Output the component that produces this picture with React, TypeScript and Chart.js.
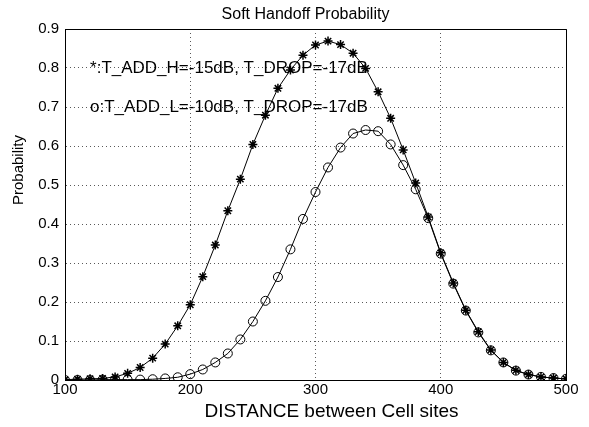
import React, { useEffect, useRef } from "react";
import { Chart, registerables } from "chart.js";

Chart.register(...registerables);

// ---- data ----
const distances = [
  100, 110, 120, 130, 140, 150, 160, 170, 180, 190,
  200, 210, 220, 230, 240, 250, 260, 270, 280, 290,
  300, 310, 320, 330, 340, 350, 360, 370, 380, 390,
  400, 410, 420, 430, 440, 450, 460, 470, 480, 490, 500,
];

// "*" series: T_ADD_H = -15dB, T_DROP = -17dB
const starValues = [
  0.001, 0.002, 0.003, 0.004, 0.008, 0.017, 0.032, 0.056, 0.092, 0.139,
  0.193, 0.265, 0.346, 0.434, 0.515, 0.604, 0.679, 0.748, 0.795, 0.833,
  0.859, 0.869, 0.860, 0.838, 0.799, 0.739, 0.671, 0.590, 0.505, 0.418,
  0.326, 0.249, 0.179, 0.124, 0.077, 0.045, 0.025, 0.014, 0.008, 0.005, 0.003,
];

// "o" series: T_ADD_L = -10dB, T_DROP = -17dB
const circleValues = [
  0.0, 0.0, 0.0, 0.001, 0.001, 0.001, 0.001, 0.002, 0.004, 0.007,
  0.015, 0.027, 0.045, 0.068, 0.104, 0.150, 0.203, 0.264, 0.335, 0.413,
  0.482, 0.545, 0.596, 0.632, 0.641, 0.638, 0.604, 0.551, 0.489, 0.415,
  0.324, 0.247, 0.178, 0.122, 0.076, 0.045, 0.024, 0.014, 0.008, 0.005, 0.003,
];

const xTicks = [100, 200, 300, 400, 500];
const yTicks = [0, 0.1, 0.2, 0.3, 0.4, 0.5, 0.6, 0.7, 0.8, 0.9];

const titleText = "Soft Handoff Probability";
const xLabelText = "DISTANCE between Cell sites";
const yLabelText = "Probability";
const noteLines = [
  { text: "*:T_ADD_H=-15dB, T_DROP=-17dB", x: 120, y: 0.8 },
  { text: "o:T_ADD_L=-10dB, T_DROP=-17dB", x: 120, y: 0.7 },
];

const FONT = "'Liberation Sans', Arial, Helvetica, sans-serif";

const textPlugin = {
  id: "matlabText",
  afterDraw(chart: any) {
    const { ctx, chartArea } = chart;
    const xs = chart.scales.x;
    const ys = chart.scales.y;
    ctx.save();
    // box (top & right borders)
    ctx.strokeStyle = "#000";
    ctx.lineWidth = 1;
    ctx.setLineDash([]);
    ctx.beginPath();
    ctx.moveTo(chartArea.left, chartArea.top + 0.5);
    ctx.lineTo(chartArea.right + 0.5, chartArea.top + 0.5);
    ctx.lineTo(chartArea.right + 0.5, chartArea.bottom);
    ctx.stroke();

    ctx.fillStyle = "#000";
    // title
    ctx.font = `16px ${FONT}`;
    ctx.textAlign = "center";
    ctx.textBaseline = "middle";
    ctx.fillText(titleText, (chartArea.left + chartArea.right) / 2 - 10, 15);

    // x label
    ctx.font = `19px ${FONT}`;
    ctx.fillText(xLabelText, (chartArea.left + chartArea.right) / 2 + 16, 412);

    // y label
    ctx.save();
    ctx.translate(19, 170);
    ctx.rotate(-Math.PI / 2);
    ctx.font = `15px ${FONT}`;
    ctx.fillText(yLabelText, 0, 0);
    ctx.restore();

    // annotations
    ctx.font = `17px ${FONT}`;
    ctx.textAlign = "left";
    ctx.textBaseline = "middle";
    for (const n of noteLines) {
      ctx.fillText(n.text, xs.getPixelForValue(n.x), ys.getPixelForValue(n.y));
    }
    ctx.restore();
  },
};

export default function App() {
  const canvasRef = useRef<HTMLCanvasElement | null>(null);

  useEffect(() => {
    if (!canvasRef.current) return;
    const starData = distances.map((d, i) => ({ x: d, y: starValues[i] }));
    const circleData = distances.map((d, i) => ({ x: d, y: circleValues[i] }));

    const chart = new Chart(canvasRef.current, {
      type: "line",
      data: {
        datasets: [
          {
            label: "T_ADD_H=-15dB",
            data: starData,
            borderColor: "#000",
            backgroundColor: "#000",
            borderWidth: 1,
            pointStyle: "star",
            pointRadius: 4.5,
            pointBorderWidth: 1.5,
            pointBorderColor: "#000",
            tension: 0,
          },
          {
            label: "T_ADD_L=-10dB",
            data: circleData,
            borderColor: "#000",
            backgroundColor: "rgba(0,0,0,0)",
            borderWidth: 1,
            pointStyle: "circle",
            pointRadius: 4.5,
            pointBorderWidth: 1,
            pointBorderColor: "#000",
            pointBackgroundColor: "rgba(0,0,0,0)",
            tension: 0,
          },
        ],
      },
      options: {
        animation: false,
        responsive: false,
        devicePixelRatio: 1,
        layout: { padding: { top: 29, right: 23, left: 0, bottom: 0 } },
        plugins: {
          legend: { display: false },
          title: { display: false },
          tooltip: { enabled: false },
        },
        scales: {
          x: {
            type: "linear",
            min: 100,
            max: 500,
            afterFit: (s: any) => {
              s.height = 47;
            },
            afterBuildTicks: (s: any) => {
              s.ticks = xTicks.map((v) => ({ value: v }));
            },
            ticks: {
              color: "#000",
              font: { family: FONT, size: 15 },
              padding: 1,
              maxRotation: 0,
              callback: (v: any) => String(v),
            },
            grid: {
              color: "rgba(0,0,0,0.65)",
              lineWidth: 1,
              drawTicks: false,
            },
            border: { display: true, color: "#000", width: 1, dash: [1, 3] },
          },
          y: {
            type: "linear",
            min: 0,
            max: 0.9,
            afterFit: (s: any) => {
              s.width = 65;
            },
            afterBuildTicks: (s: any) => {
              s.ticks = yTicks.map((v) => ({ value: v }));
            },
            ticks: {
              color: "#000",
              font: { family: FONT, size: 15 },
              padding: 6,
              callback: (v: any) => (Number(v) === 0 ? "0" : Number(v).toFixed(1)),
            },
            grid: {
              color: "rgba(0,0,0,0.65)",
              lineWidth: 1,
              drawTicks: false,
            },
            border: { display: true, color: "#000", width: 1, dash: [1, 3] },
          },
        },
      },
      plugins: [textPlugin],
    });
    return () => chart.destroy();
  }, []);

  return (
    <div style={{ position: "fixed", left: 0, top: 0, width: 589, height: 427, background: "#fff" }}>
      <canvas ref={canvasRef} width={589} height={427} style={{ width: 589, height: 427, display: "block" }} />
    </div>
  );
}
